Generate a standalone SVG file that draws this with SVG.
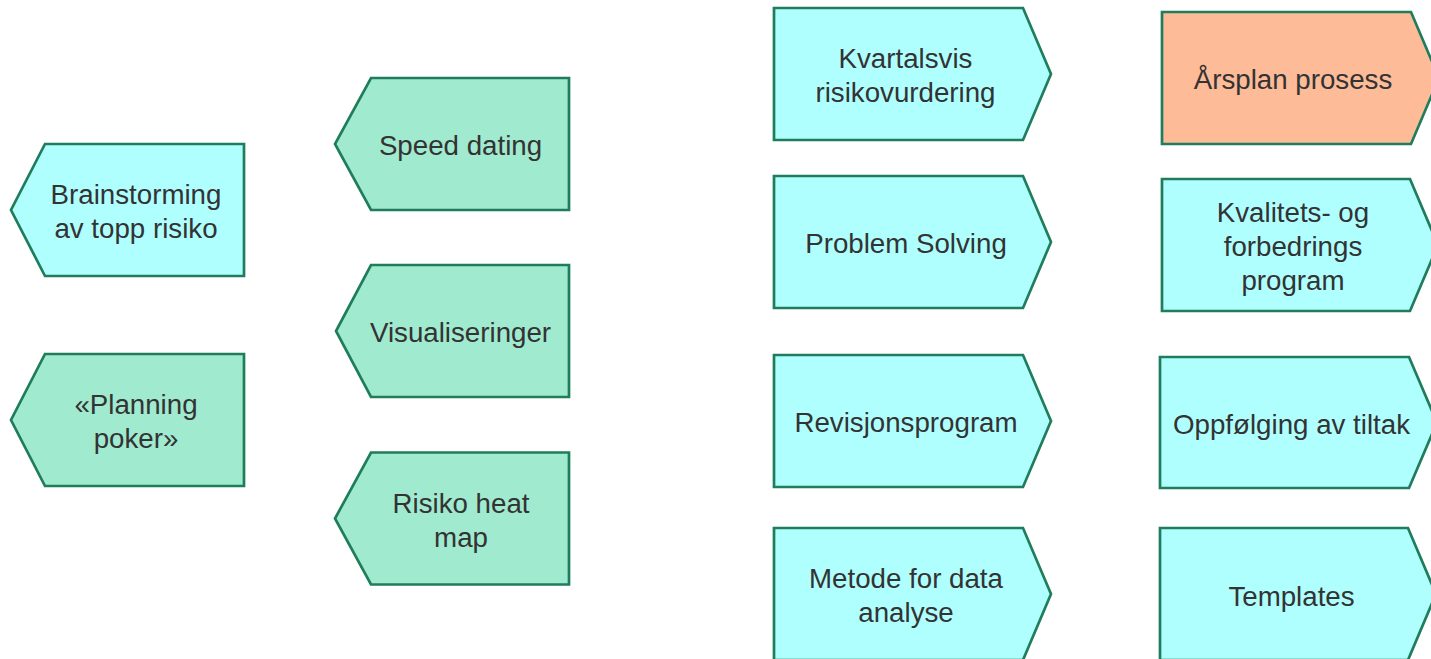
<svg xmlns="http://www.w3.org/2000/svg" width="1431" height="659" viewBox="0 0 1431 659">
<style>
.s{stroke:#1f7d5c;stroke-width:2.7;stroke-linejoin:miter}
.c{fill:#afffff}
.g{fill:#a0ead0}
.o{fill:#fdbb98}
text{font-family:"Liberation Sans",Arial,sans-serif;font-size:27.7px;fill:#333333;text-anchor:middle}
</style>
<rect width="1431" height="659" fill="#ffffff"/>
<g id="connectors"></g>
<g id="n-brainstorming">
<polygon class="s c" points="45,144 244,144 244,276 45,276 11,210"/>
<text x="136" y="204">Brainstorming</text>
<text x="136" y="238">av topp risiko</text>
</g>
<g id="n-planning-poker">
<polygon class="s g" points="45,354 244,354 244,486 45,486 11,420"/>
<text x="136" y="414">«Planning</text>
<text x="136" y="448">poker»</text>
</g>
<g id="n-speed-dating">
<polygon class="s g" points="371,78 569,78 569,210 371,210 335,144"/>
<text x="460.5" y="155">Speed dating</text>
</g>
<g id="n-visualiseringer">
<polygon class="s g" points="371,265 569,265 569,397 371,397 336,331"/>
<text x="460.5" y="342">Visualiseringer</text>
</g>
<g id="n-risiko-heat-map">
<polygon class="s g" points="371,452.5 569,452.5 569,584.5 371,584.5 335,518.5"/>
<text x="461" y="512.5">Risiko heat</text>
<text x="461" y="546.5">map</text>
</g>
<g id="n-kvartalsvis">
<polygon class="s c" points="774,8 1023,8 1051,74 1023,140 774,140"/>
<text x="905.5" y="68">Kvartalsvis</text>
<text x="905.5" y="102">risikovurdering</text>
</g>
<g id="n-problem-solving">
<polygon class="s c" points="774,176 1023,176 1051,242 1023,308 774,308"/>
<text x="906" y="253">Problem Solving</text>
</g>
<g id="n-revisjonsprogram">
<polygon class="s c" points="774,355 1023,355 1051,421 1023,487 774,487"/>
<text x="906" y="432">Revisjonsprogram</text>
</g>
<g id="n-metode">
<polygon class="s c" points="774,528 1023,528 1051,594 1023,660 774,660"/>
<text x="906" y="588">Metode for data</text>
<text x="906" y="622">analyse</text>
</g>
<g id="n-arsplan">
<polygon class="s o" points="1162,12 1411,12 1439,78 1411,144 1162,144"/>
<text x="1293" y="89">Årsplan prosess</text>
</g>
<g id="n-kvalitets">
<polygon class="s c" points="1162,179 1410,179 1438,245 1410,311 1162,311"/>
<text x="1293" y="222">Kvalitets- og</text>
<text x="1293" y="256">forbedrings</text>
<text x="1293" y="290">program</text>
</g>
<g id="n-oppfolging">
<polygon class="s c" points="1160,357 1409,357 1437,422.5 1409,488 1160,488"/>
<text x="1291.5" y="434">Oppfølging av tiltak</text>
</g>
<g id="n-templates">
<polygon class="s c" points="1160,528 1408,528 1436,594 1408,660 1160,660"/>
<text x="1291.5" y="606">Templates</text>
</g>
</svg>
